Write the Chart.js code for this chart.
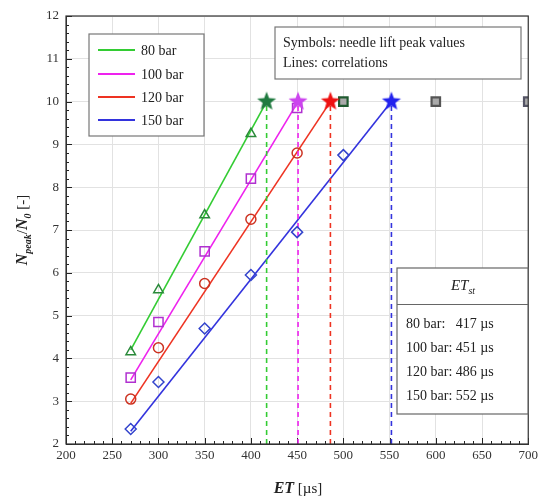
<!DOCTYPE html>
<html>
<head>
<meta charset="utf-8">
<script src="https://cdn.jsdelivr.net/npm/chart.js@4.4.1/dist/chart.umd.min.js"></script>
<style>
  html, body { margin: 0; padding: 0; background: #fff; }
  #wrap { width: 542px; height: 500px; }
</style>
</head>
<body>
<div id="wrap"><canvas id="grafico"></canvas></div>
<script>
// needle lift peak values (symbols)
const et80 = [270, 300, 350, 400];
const n80 = [4.15, 5.6, 7.35, 9.25];
const et100 = [270, 300, 350, 400, 450];
const n100 = [3.55, 4.85, 6.5, 8.2, 9.85];
const et120 = [270, 300, 350, 400, 450];
const n120 = [3.05, 4.25, 5.75, 7.25, 8.8];
const et150 = [270, 300, 350, 400, 450, 500];
const n150 = [2.35, 3.45, 4.7, 5.95, 6.95, 8.75];

// saturated points at N/N0 = 10
const satEt = [500, 600, 700];
const satN = [10, 10, 10];

// correlations: start point -> ET_st at N/N0 = 10
const labels = ['80 bar', '100 bar', '120 bar', '150 bar'];
const fitStartEt = [270, 270, 270, 270];
const fitStartN = [4.2, 3.5, 2.95, 2.3];
const etSt = [417, 451, 486, 552];
const nSt = 10;

const xTicks = [200, 250, 300, 350, 400, 450, 500, 550, 600, 650, 700];
const yTicks = [2, 3, 4, 5, 6, 7, 8, 9, 10, 11, 12];

const corLines = ['#33cc33', '#ee22ee', '#ee3322', '#3333dd'];
const corSymbols = ['#2a8a3a', '#b030d0', '#cc3322', '#3344cc'];
const corStars = ['#1f7a3f', '#cc44ee', '#ee1111', '#2222ee'];
const serif = '"Liberation Serif", "DejaVu Serif", serif';

function estrela(cor, r) {
  const c = document.createElement('canvas');
  c.width = c.height = 2 * r + 2;
  const ctx = c.getContext('2d');
  ctx.fillStyle = cor;
  ctx.beginPath();
  for (let i = 0; i < 10; i++) {
    const rr = i % 2 === 0 ? r : r * 0.42;
    const a = -Math.PI / 2 + i * Math.PI / 5;
    const px = r + 1 + rr * Math.cos(a);
    const py = r + 1 + rr * Math.sin(a);
    if (i === 0) ctx.moveTo(px, py); else ctx.lineTo(px, py);
  }
  ctx.closePath();
  ctx.fill();
  return c;
}

const pts = (xs, ys) => xs.map((x, i) => ({ x: x, y: ys[i] }));

const datasets = [];
// correlation lines
labels.forEach((lab, i) => {
  datasets.push({
    label: lab,
    data: [{ x: fitStartEt[i], y: fitStartN[i] }, { x: etSt[i], y: nSt }],
    showLine: true, borderColor: corLines[i], borderWidth: 1.6,
    pointRadius: 0, order: 3
  });
  datasets.push({
    label: 'ETst ' + lab,
    data: [{ x: etSt[i], y: 2 }, { x: etSt[i], y: nSt }],
    showLine: true, borderColor: corLines[i], borderWidth: 1.6,
    borderDash: [5, 4], pointRadius: 0, order: 3
  });
});

const simbolos = [
  { xs: et80, ys: n80, style: 'triangle', r: 5.5 },
  { xs: et100, ys: n100, style: 'rect', r: 6.5 },
  { xs: et120, ys: n120, style: 'circle', r: 5 },
  { xs: et150, ys: n150, style: 'rectRot', r: 5.5 }
];
simbolos.forEach((s, i) => {
  datasets.push({
    label: 'pts ' + labels[i],
    data: pts(s.xs, s.ys),
    showLine: false, pointStyle: s.style, pointRadius: s.r,
    pointBorderColor: corSymbols[i], pointBackgroundColor: 'rgba(255,255,255,0)',
    pointBorderWidth: 1.5, order: 2
  });
});

datasets.push({
  label: 'saturated',
  data: pts(satEt, satN),
  showLine: false, pointStyle: 'rect', pointRadius: 6,
  pointBorderColor: ['#1f5a2f', '#555555', '#555566'],
  pointBackgroundColor: '#aaaaaa', pointBorderWidth: 2.2, order: 2
});

datasets.push({
  label: 'stars',
  data: etSt.map(x => ({ x: x, y: nSt })),
  showLine: false,
  pointStyle: corStars.map(c => estrela(c, 10)),
  order: 1
});

function texto(ctx, partes, x, y, align) {
  let w = 0;
  partes.forEach(p => { ctx.font = p.f; w += ctx.measureText(p.t).width; });
  let cx = align === 'center' ? x - w / 2 : x;
  partes.forEach(p => {
    ctx.font = p.f;
    ctx.fillText(p.t, cx, y + (p.dy || 0));
    cx += ctx.measureText(p.t).width;
  });
}

const extras = {
  id: 'extras',
  beforeDatasetsDraw(chart) {
    const { ctx, chartArea: a, scales: { x, y } } = chart;
    ctx.save();
    ctx.strokeStyle = '#222';
    ctx.lineWidth = 1;
    // minor / major ticks, inward
    for (let v = 200; v <= 700; v += 10) {
      const px = Math.round(x.getPixelForValue(v)) + 0.5;
      const len = v % 50 === 0 ? 6 : 3;
      ctx.beginPath(); ctx.moveTo(px, a.bottom); ctx.lineTo(px, a.bottom - len); ctx.stroke();
    }
    for (let k = 0; k <= 50; k++) {
      const v = 2 + k * 0.2;
      const py = Math.round(y.getPixelForValue(v)) + 0.5;
      const len = k % 5 === 0 ? 6 : 3;
      ctx.beginPath(); ctx.moveTo(a.left, py); ctx.lineTo(a.left + len, py); ctx.stroke();
    }
    ctx.restore();
  },
  afterDraw(chart) {
    const { ctx, chartArea: a } = chart;
    ctx.save();
    // frame
    ctx.strokeStyle = '#333';
    ctx.lineWidth = 1.2;
    ctx.strokeRect(a.left, a.top, a.right - a.left, a.bottom - a.top);

    ctx.fillStyle = '#222';
    ctx.textBaseline = 'alphabetic';

    // legend
    ctx.fillStyle = '#fff';
    ctx.fillRect(89, 34, 115, 102);
    ctx.strokeStyle = '#777';
    ctx.lineWidth = 1.2;
    ctx.strokeRect(89, 34, 115, 102);
    const ly = [50, 74, 97, 120];
    labels.forEach((lab, i) => {
      ctx.strokeStyle = corLines[i];
      ctx.lineWidth = 1.8;
      ctx.beginPath(); ctx.moveTo(98, ly[i]); ctx.lineTo(135, ly[i]); ctx.stroke();
      ctx.fillStyle = '#222';
      ctx.font = '14px ' + serif;
      ctx.fillText(lab, 141, ly[i] + 5);
    });

    // note box
    ctx.fillStyle = '#fff';
    ctx.fillRect(275, 27, 246, 52);
    ctx.strokeStyle = '#777';
    ctx.lineWidth = 1.2;
    ctx.strokeRect(275, 27, 246, 52);
    ctx.fillStyle = '#222';
    ctx.font = '14px ' + serif;
    ctx.fillText('Symbols: needle lift peak values', 283, 47);
    ctx.fillText('Lines: correlations', 283, 67);

    // ET_st box
    ctx.fillStyle = '#fff';
    ctx.fillRect(397, 268, 131, 146);
    ctx.strokeStyle = '#666';
    ctx.lineWidth = 1.2;
    ctx.strokeRect(397, 268, 131, 146);
    ctx.beginPath(); ctx.moveTo(397, 304.5); ctx.lineTo(528, 304.5); ctx.stroke();
    ctx.fillStyle = '#222';
    texto(ctx, [
      { t: 'ET', f: 'italic 15px ' + serif },
      { t: 'st', f: 'italic 10px ' + serif, dy: 4 }
    ], 463, 290, 'center');
    ctx.font = '14px ' + serif;
    const linhas = ['80 bar:   ', '100 bar: ', '120 bar: ', '150 bar: '];
    const lyy = [328, 352, 376, 400];
    linhas.forEach((l, i) => ctx.fillText(l + etSt[i] + ' \u00b5s', 406, lyy[i]));

    // axis titles
    ctx.save();
    ctx.translate(27, 230);
    ctx.rotate(-Math.PI / 2);
    texto(ctx, [
      { t: 'N', f: 'bold italic 16px ' + serif },
      { t: 'peak', f: 'bold italic 10px ' + serif, dy: 4 },
      { t: '/', f: '15px ' + serif },
      { t: 'N', f: 'bold italic 16px ' + serif },
      { t: '0', f: 'bold italic 10px ' + serif, dy: 4 },
      { t: ' [-]', f: '15px ' + serif }
    ], 0, 0, 'center');
    ctx.restore();
    texto(ctx, [
      { t: 'ET', f: 'bold italic 16px ' + serif },
      { t: ' [\u00b5s]', f: '15px ' + serif }
    ], 298, 493, 'center');
    ctx.restore();
  }
};

new Chart(document.getElementById('grafico'), {
  type: 'scatter',
  data: { datasets: datasets },
  options: {
    responsive: true,
    maintainAspectRatio: false,
    animation: false,
    layout: { padding: { top: 16, right: 9, left: 0, bottom: 0 } },
    plugins: { legend: { display: false }, tooltip: { enabled: false } },
    scales: {
      x: {
        type: 'linear', min: 200, max: 700,
        afterBuildTicks: s => { s.ticks = xTicks.map(v => ({ value: v })); },
        afterFit: s => { s.height = 56; },
        ticks: { color: '#333', font: { family: serif, size: 13 }, padding: 4 },
        grid: { color: '#e2e2e2', drawTicks: false },
        border: { color: '#333' }
      },
      y: {
        type: 'linear', min: 2, max: 12,
        afterBuildTicks: s => { s.ticks = yTicks.map(v => ({ value: v })); },
        afterFit: s => { s.width = 66; },
        ticks: { color: '#333', font: { family: serif, size: 13 }, padding: 7 },
        grid: { color: '#e2e2e2', drawTicks: false },
        border: { color: '#333' }
      }
    }
  },
  plugins: [extras]
});
</script>
</body>
</html>
